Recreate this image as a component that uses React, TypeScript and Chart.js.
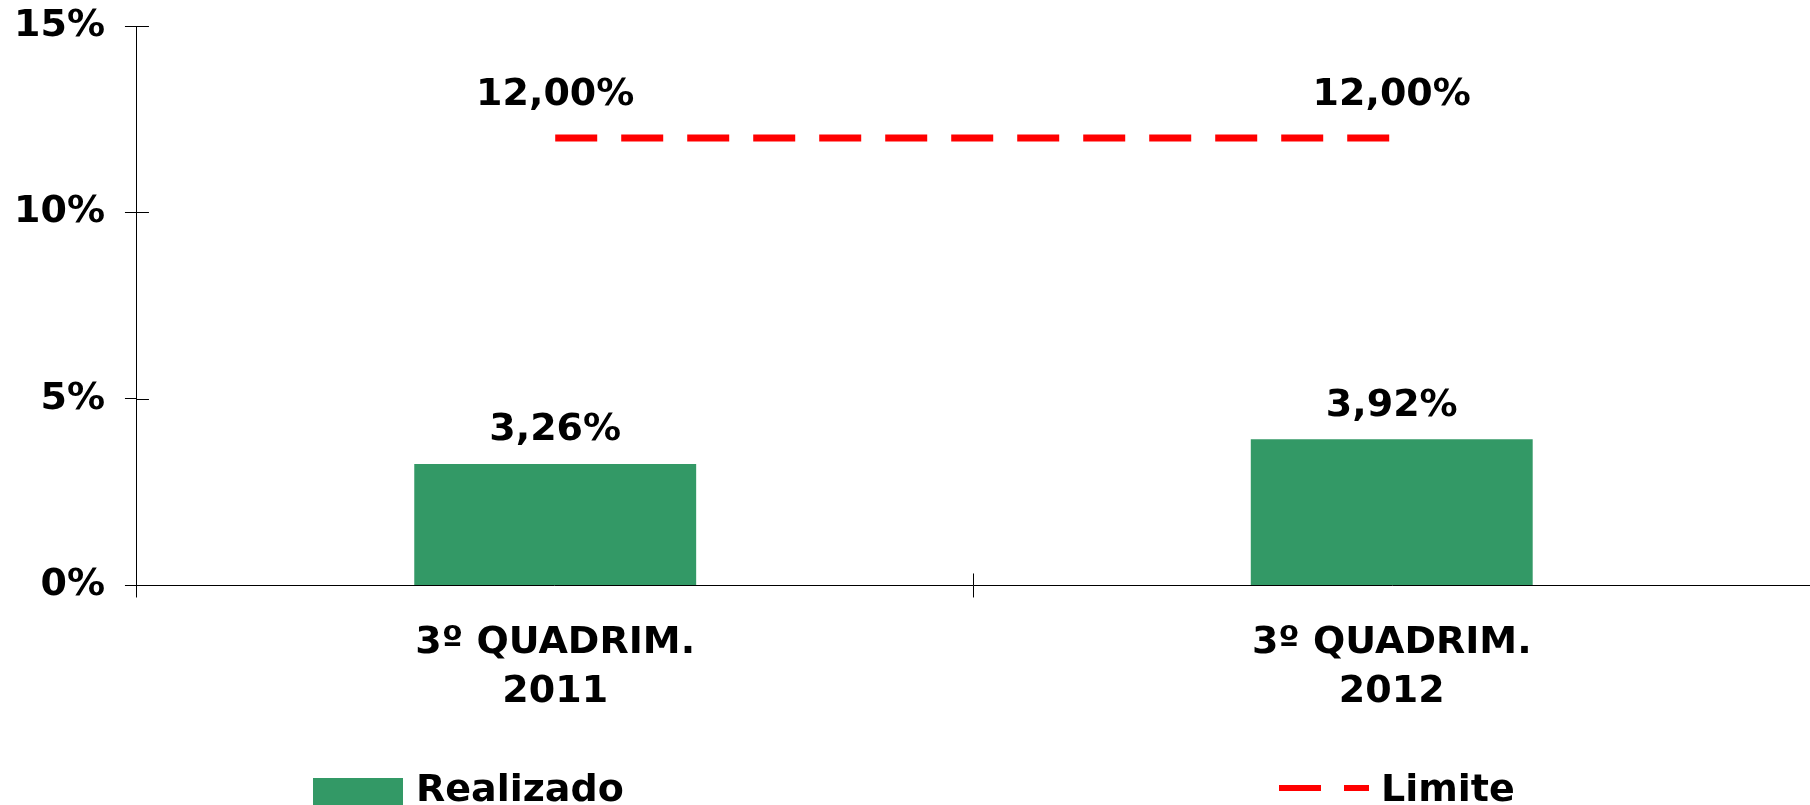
import React, { useEffect, useRef } from 'react';
import { Chart, registerables } from 'chart.js';

Chart.register(...registerables);

// ---- data ----
const categories = [["3º QUADRIM.", "2011"], ["3º QUADRIM.", "2012"]];
const realizado = [3.26, 3.92];
const limite = [12, 12];
const seriesNames = ["Realizado", "Limite"];
const yMin = 0;
const yMax = 15;
const yStep = 5;

const FONT = "'DejaVu Sans', sans-serif";
const BAR_COLOR = '#339966';
const LINE_COLOR = '#FF0000';
const FS = 38;

const fmt = (v: number) => v.toFixed(2).replace('.', ',') + '%';

const crossTicks = {
  id: 'crossTicks',
  afterDraw(chart: any) {
    const { ctx, chartArea, scales } = chart;
    ctx.save();
    ctx.strokeStyle = '#000';
    ctx.lineWidth = 1;
    scales.y.ticks.forEach((_t: any, i: number) => {
      const y = Math.round(scales.y.getPixelForTick(i)) + 0.5;
      ctx.beginPath();
      ctx.moveTo(chartArea.left, y);
      ctx.lineTo(chartArea.left + 12, y);
      ctx.stroke();
    });
    const n = scales.x.ticks.length;
    for (let i = 1; i < n; i++) {
      const x = Math.round((scales.x.getPixelForTick(i - 1) + scales.x.getPixelForTick(i)) / 2) + 0.5;
      ctx.beginPath();
      ctx.moveTo(x, chartArea.bottom);
      ctx.lineTo(x, chartArea.bottom - 12);
      ctx.stroke();
    }
    ctx.restore();
  },
};

const dataLabels = {
  id: 'dataLabels',
  afterDatasetsDraw(chart: any) {
    const ctx = chart.ctx;
    ctx.save();
    ctx.font = `bold ${FS}px ${FONT}`;
    ctx.fillStyle = '#000';
    ctx.textAlign = 'center';
    ctx.textBaseline = 'alphabetic';
    chart.data.datasets.forEach((ds: any, di: number) => {
      const meta = chart.getDatasetMeta(di);
      const off = ds.type === 'line' ? 32.5 : 23.5;
      meta.data.forEach((el: any, i: number) => {
        ctx.fillText(fmt(ds.data[i]), el.x, el.y - off);
      });
    });
    ctx.restore();
  },
};

const customLegend = {
  id: 'customLegend',
  afterDraw(chart: any) {
    const ctx = chart.ctx;
    const ds = chart.data.datasets;
    ctx.save();
    ctx.font = `bold ${FS}px ${FONT}`;
    ctx.textAlign = 'left';
    ctx.textBaseline = 'alphabetic';
    // bar item
    ctx.fillStyle = ds[0].backgroundColor;
    ctx.fillRect(313, 778, 90, 30);
    ctx.fillStyle = '#000';
    ctx.fillText(ds[0].label, 416, 801);
    // line item
    ctx.strokeStyle = ds[1].borderColor;
    ctx.lineWidth = 6;
    ctx.setLineDash([42, 23]);
    ctx.beginPath();
    ctx.moveTo(1279, 788);
    ctx.lineTo(1369, 788);
    ctx.stroke();
    ctx.setLineDash([]);
    ctx.fillText(ds[1].label, 1381, 801);
    ctx.restore();
  },
};

export default function App() {
  const ref = useRef<HTMLCanvasElement>(null);
  useEffect(() => {
    if (!ref.current) return;
    Chart.defaults.font.family = FONT;
    const chart = new Chart(ref.current, {
      type: 'bar',
      data: {
        labels: categories,
        datasets: [
          {
            type: 'bar',
            label: seriesNames[0],
            data: realizado,
            backgroundColor: BAR_COLOR,
            borderWidth: 0,
            barPercentage: 0.337,
            categoryPercentage: 1,
            order: 2,
          },
          {
            type: 'line',
            label: seriesNames[1],
            data: limite,
            borderColor: LINE_COLOR,
            backgroundColor: LINE_COLOR,
            borderWidth: 7,
            borderDash: [42, 24],
            pointRadius: 0,
            fill: false,
            order: 1,
          },
        ] as any,
      },
      options: {
        responsive: false,
        animation: false,
        layout: { padding: { left: -6, top: 26, right: -7, bottom: 67 } },
        plugins: {
          legend: { display: false },
          tooltip: { enabled: false },
        },
        scales: {
          x: {
            offset: true,
            grid: { offset: true, drawOnChartArea: false, drawTicks: true, tickLength: 12, color: '#000', lineWidth: 1 },
            border: { display: true, color: '#000', width: 1 },
            ticks: {
              color: '#000',
              padding: 22,
              maxRotation: 0,
              font: { size: FS, weight: 'bold', family: FONT, lineHeight: 1.27 },
            },
            afterFit: (s: any) => { s.paddingLeft = 0; s.paddingRight = 0; },
          },
          y: {
            min: yMin,
            max: yMax,
            grid: { drawOnChartArea: false, drawTicks: true, tickLength: 12, color: '#000', lineWidth: 1 },
            border: { display: true, color: '#000', width: 1 },
            ticks: {
              stepSize: yStep,
              color: '#000',
              padding: 20,
              font: { size: FS, weight: 'bold', family: FONT },
              callback: (v: any) => `${v}%`,
            },
            afterFit: (s: any) => { s.paddingTop = 0; s.paddingBottom = 0; },
          },
        },
      },
      plugins: [crossTicks, dataLabels, customLegend],
    });
    return () => chart.destroy();
  }, []);
  return (
    <div style={{ position: 'fixed', left: 0, top: 0, width: 1810, height: 805, background: '#fff' }}>
      <canvas ref={ref} width={1810} height={805} style={{ display: 'block' }} />
    </div>
  );
}
